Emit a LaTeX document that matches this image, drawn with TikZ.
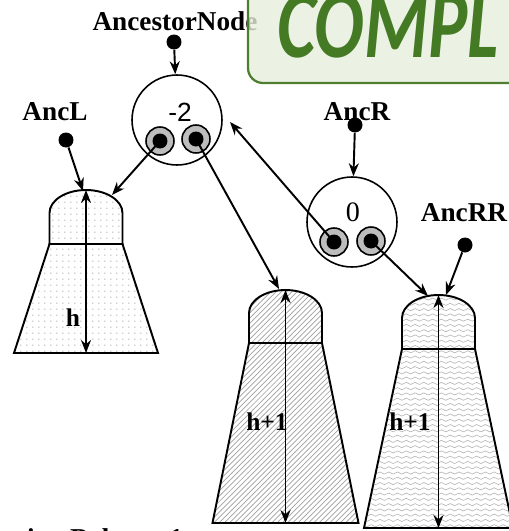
\documentclass[tikz,border=0pt]{standalone}
\usepackage{fontspec}
\setmainfont{Liberation Serif}
\newfontfamily\valfont{Liberation Sans}
\newfontfamily\stampfont{Carlito}
\usepackage{tikz}
\usetikzlibrary{arrows.meta, patterns, patterns.meta}
\definecolor{stampgreen}{HTML}{457A25}
\definecolor{stampedge}{HTML}{4E7E2F}
\definecolor{stampsoft}{HTML}{E6EEDC}
\definecolor{ptrgray}{HTML}{BDBDBD}
\definecolor{patgray}{HTML}{A0A0A0}
\definecolor{wavegray}{HTML}{B4B4B4}
\tikzdeclarepattern{
  name=sparsedots, type=uncolored,
  bounding box={(0pt,0pt) and (3.6pt,3.6pt)},
  tile size={(3.6pt,3.6pt)},
  code={\fill (1.8pt,1.8pt) circle (0.45pt);}
}
\tikzdeclarepattern{
  name=wavelines, type=uncolored,
  bounding box={(0pt,-1pt) and (5pt,1pt)},
  tile size={(5pt,3pt)},
  code={\draw[line width=0.35pt] (0pt,0pt) sin (1.25pt,0.6pt) cos (2.5pt,0pt)
        sin (3.75pt,-0.6pt) cos (5pt,0pt);}
}
\tikzset{
  lbl/.style={font=\bfseries\fontsize{15.5}{18}\selectfont, inner sep=0pt},
  hlbl/.style={font=\bfseries\fontsize{14.5}{17}\selectfont, inner sep=0pt},
  val/.style={font=\fontsize{15}{18}\selectfont, inner sep=0pt},
  avlnode/.style={circle, draw, line width=0.9pt, minimum size=1.8cm, inner sep=0pt},
  ptr/.style={circle, draw, fill=ptrgray, line width=0.9pt, minimum size=0.56cm,
              inner sep=0pt,
              path picture={\fill[black] (path picture bounding box.center) circle (0.15cm);}},
  pin/.style={circle, fill, minimum size=0.3cm, inner sep=0pt},
  flow/.style={-{Stealth[length=2.6mm, width=2mm]}, line width=1.1pt},
  span/.style={{Stealth[length=2.6mm, width=2mm]}-{Stealth[length=2.6mm, width=2mm]},
               line width=1.1pt},
  treeshape/.style={draw, line width=1.1pt, pattern color=patgray},
  stampbox/.style={draw=stampedge, line width=1.3pt, rounded corners=0.3cm,
                   fill=stampsoft, fill opacity=0.8},
  stamptext/.style={font=\stampfont\bfseries\itshape\fontsize{56}{60}\selectfont,
                    text=stampgreen, inner sep=0pt, xscale=0.75},
}
\begin{document}
\begin{tikzpicture}[x=0.02cm, y=-0.02cm]
  \useasboundingbox (0,0) rectangle (509,531);
  \clip (0,0) rectangle (509,531);

  % subtrees
  \foreach \nm/\xc/\yt/\yr/\ybase/\hb/\pat/\pc in
      {treeL/86/190/244/353/72/sparsedots/patgray,
       treeM/285.5/290/343/523/73/north east lines/patgray,
       treeR/438.5/295/349/528/74.5/wavelines/wavegray}{
    \draw[treeshape, pattern=\pat, pattern color=\pc] (\xc-36.5,\yr) -- (\xc+36.5,\yr)
      -- (\xc+\hb,\ybase) -- (\xc-\hb,\ybase) -- cycle;
    \draw[treeshape, pattern=\pat, pattern color=\pc] (\xc-36.5,\yr) -- (\xc-36.5,\yt+23)
      arc[start angle=180, end angle=360, x radius=36.5, y radius=23]
      -- (\xc+36.5,\yr) -- cycle;
    \coordinate (\nm top) at (\xc,\yt);
    \coordinate (\nm base) at (\xc,\ybase);
    \draw[span] (\nm top) -- (\nm base);
  }
  \node[hlbl] (hL) at (73,318) {h};
  \node[hlbl] (hM) at (267,422) {h+1};
  \node[hlbl] (hR) at (410,422) {h+1};

  % ancestor node
  \node[lbl] (ancname) at (175,21) {AncestorNode};
  \node[pin] (ancdot) at (174,42) {};
  \node[avlnode] (root) at (177,120) {};
  \node[val, font=\valfont\fontsize{15}{18}\selectfont] (rootbal) at (180,112) {-2};
  \node[ptr] (rootL) at (160,141) {};
  \node[ptr] (rootR) at (196,139) {};

  % left link
  \node[lbl] (ancLname) at (55,112) {AncL};
  \node[pin] (ancLdot) at (66,140) {};

  % right child
  \node[lbl] (ancRname) at (357,112) {AncR};
  \node[pin] (ancRdot) at (355,125) {};
  \node[avlnode] (ancR) at (352,222) {};
  \node[val, font=\fontsize{16}{18}\selectfont] (ancRbal) at (353,212) {0};
  \node[ptr] (ancRL) at (334,242) {};
  \node[ptr] (ancRR) at (371,241) {};
  \node[lbl] (ancRRname) at (464,213) {AncRR};
  \node[pin] (ancRRdot) at (465,245) {};

  \coordinate (lTipA) at (83,191);
  \coordinate (lTipB) at (112,195);
  \coordinate (mTip) at (279,289);
  \coordinate (rootIn) at (230,122);
  \coordinate (rTipA) at (428,296);
  \coordinate (rTipB) at (446,295);

  \draw[flow] (ancdot) -- (root);
  \draw[flow] (ancLdot) -- (lTipA);
  \draw[flow] (rootL.center) -- (lTipB);
  \draw[flow] (rootR.center) -- (mTip);
  \draw[flow] (ancRdot) -- (ancR);
  \draw[flow] (ancRL.center) -- (rootIn);
  \draw[flow] (ancRR.center) -- (rTipA);
  \draw[flow] (ancRRdot) -- (rTipB);

  % stamp
  \draw[stampbox] (248,-40) rectangle (560,83);
  \node[stamptext, anchor=base] (stamp) at (388,57) {COMPL};

  \node[lbl, anchor=base west] (caption) at (4,547) {ation Balance 1};
\end{tikzpicture}
\end{document}
